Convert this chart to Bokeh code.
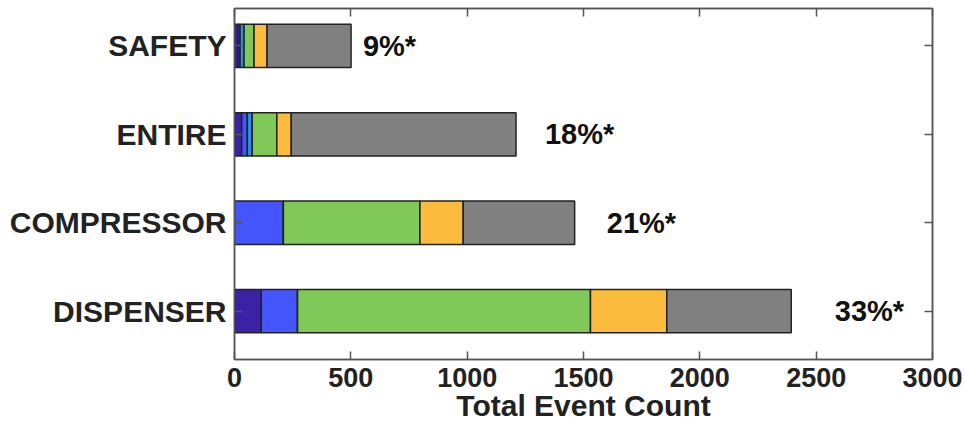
from bokeh.plotting import figure
from bokeh.models import ColumnDataSource, Range1d, FixedTicker, LinearAxis
from bokeh.core.properties import value
from bokeh.embed import file_html
from bokeh.resources import INLINE

categories = ["DISPENSER", "COMPRESSOR", "ENTIRE", "SAFETY"]
seg_dark = [115, 0, 31, 15]
seg_blue = [156, 210, 24, 9]
seg_light = [0, 0, 21, 17]
seg_green = [1259, 587, 106, 43]
seg_orange = [328, 186, 62, 56]
seg_gray = [535, 479, 966, 361]
pct_labels = ["33%*", "21%*", "18%*", "9%*"]
x_ticks = [0, 500, 1000, 1500, 2000, 2500, 3000]
x_title = "Total Event Count"

FONT = "Liberation Sans"
names = ["dark", "blue", "light", "green", "orange", "gray"]
colors = ["#3a22a6", "#4455fb", "#2a8de8", "#80c857", "#fbbb3d", "#808080"]
ypos = [1, 2, 3, 4]
src = ColumnDataSource(dict(y=ypos, dark=seg_dark, blue=seg_blue, light=seg_light,
                            green=seg_green, orange=seg_orange, gray=seg_gray))

p = figure(width=965, height=424, output_backend="svg", toolbar_location=None,
           x_range=Range1d(0, 3000), y_range=Range1d(0.453, 4.423),
           min_border_left=234, min_border_right=33, min_border_top=8, min_border_bottom=64)
p.grid.visible = False
p.outline_line_color = "#555555"
p.outline_line_width = 1.5

p.hbar_stack(names, y="y", height=0.49, color=colors, line_color="#222222",
             line_width=1.5, source=src)

totals = [sum(v) for v in zip(seg_dark, seg_blue, seg_light, seg_green, seg_orange, seg_gray)]
label_offsets = [187, 138, 124, 51]
label_x = [t + o for t, o in zip(totals, label_offsets)]
p.text(x=label_x, y=ypos, text=pct_labels, text_font=value(FONT), text_font_style="bold",
       text_font_size="29px", text_baseline="middle", text_align="left", text_color="#111111")

xa = p.xaxis[0]
xa.ticker = FixedTicker(ticks=x_ticks)
xa.axis_label = x_title
xa.axis_label_text_font = FONT
xa.axis_label_text_font_style = "bold"
xa.axis_label_text_font_size = "30px"
xa.axis_label_text_color = "#222222"
xa.axis_label_standoff = -1
xa.major_label_text_font = FONT
xa.major_label_text_font_style = "bold"
xa.major_label_text_font_size = "27px"
xa.major_label_text_color = "#222222"
xa.major_label_standoff = 8

ya = p.yaxis[0]
ya.ticker = FixedTicker(ticks=ypos)
ya.major_label_overrides = {i: c for i, c in zip(ypos, categories)}
ya.major_label_text_font = FONT
ya.major_label_text_font_style = "bold"
ya.major_label_text_font_size = "30px"
ya.major_label_text_color = "#222222"
ya.major_label_standoff = 8

for ax in (xa, ya):
    ax.major_tick_in = 8
    ax.major_tick_out = 0
    ax.minor_tick_line_color = None
    ax.axis_line_color = "#555555"
    ax.axis_line_width = 1.5
    ax.major_tick_line_color = "#555555"
    ax.major_tick_line_width = 1.5

top = LinearAxis(ticker=FixedTicker(ticks=x_ticks), major_label_text_font_size="0px",
                 major_tick_in=8, major_tick_out=0, minor_tick_line_color=None,
                 axis_line_color="#555555", axis_line_width=1.5,
                 major_tick_line_color="#555555", major_tick_line_width=1.5,
                 major_label_standoff=0)
p.add_layout(top, "above")
right = LinearAxis(ticker=FixedTicker(ticks=ypos), major_label_text_font_size="0px",
                   major_tick_in=8, major_tick_out=0, minor_tick_line_color=None,
                   axis_line_color="#555555", axis_line_width=1.5,
                   major_tick_line_color="#555555", major_tick_line_width=1.5,
                   major_label_standoff=0)
p.add_layout(right, "right")

open("out.html", "w").write(file_html(p, INLINE))
